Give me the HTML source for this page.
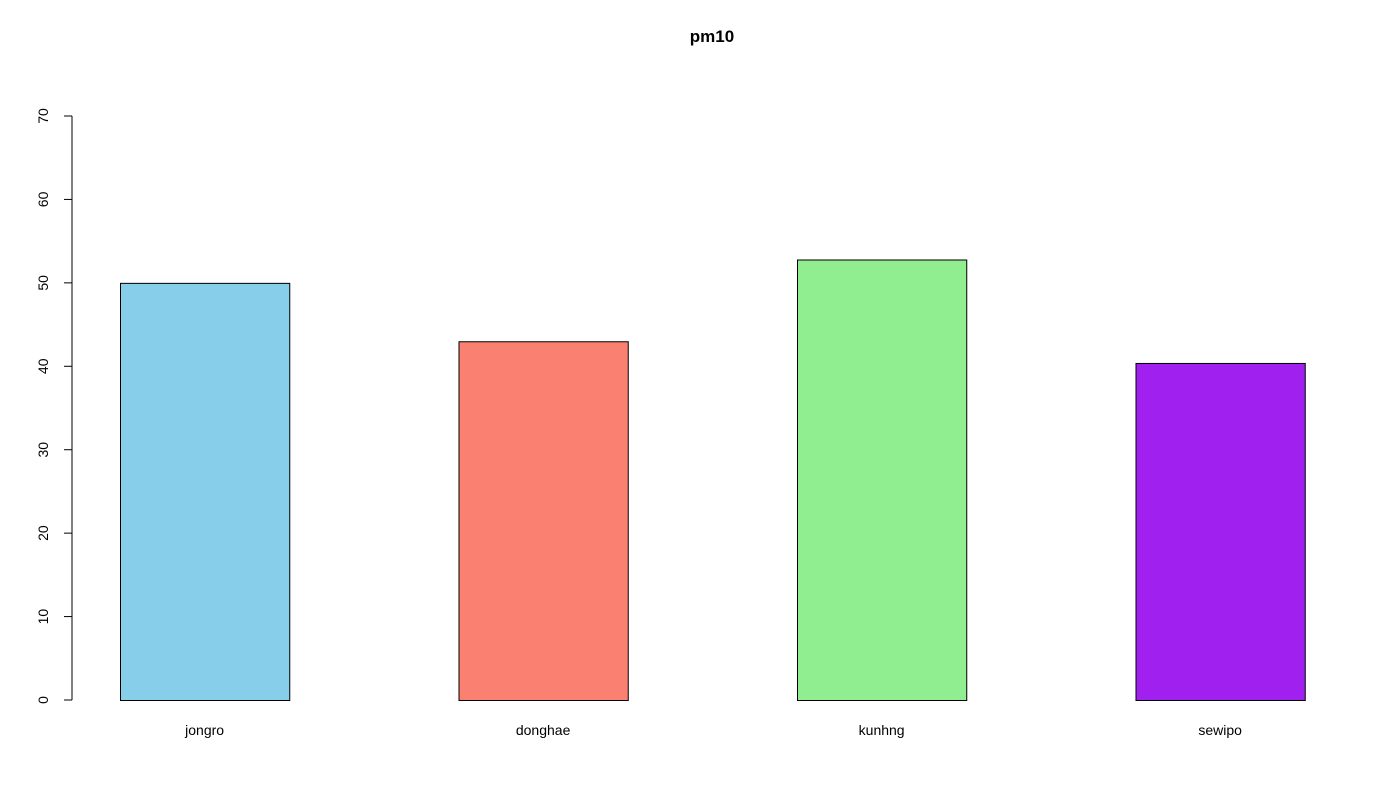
<!DOCTYPE html>
<html>
<head>
<meta charset="utf-8">
<style>
html,body{margin:0;padding:0;background:#fff;}
svg{display:block;font-family:"Liberation Sans",Arial,sans-serif;}
</style>
</head>
<body>
<svg id="chart" width="1385" height="791" viewBox="0 0 1385 791" xmlns="http://www.w3.org/2000/svg">
<rect width="1385" height="791" fill="#fff"/>
<text x="712" y="42" text-anchor="middle" font-size="17" font-weight="bold">pm10</text>
<g id="yaxis"></g>
<g id="bars"></g>
<g id="xlabels"></g>
</svg>
<script>
const categories = ["jongro","donghae","kunhng","sewipo"];
const values = [50, 43, 52.8, 40.4];
const colors = ["#87CEEB","#FA8072","#90EE90","#A020F0"];
const yTicks = [0,10,20,30,40,50,60,70];

const NS = "http://www.w3.org/2000/svg";
const y = v => 700 - v * (584/70);
const x = u => 120 + u * 169.25;

const yaxis = document.getElementById('yaxis');
const axLine = document.createElementNS(NS,'line');


axLine.setAttribute('x1',72);axLine.setAttribute('x2',72);
axLine.setAttribute('y1',y(yTicks[0]));axLine.setAttribute('y2',y(yTicks[yTicks.length-1]));
axLine.setAttribute('stroke','#000');
yaxis.appendChild(axLine);
yTicks.forEach(t=>{
  const tk=document.createElementNS(NS,'line');
  
  
  tk.setAttribute('x1',64);tk.setAttribute('x2',72);
  tk.setAttribute('y1',y(t));tk.setAttribute('y2',y(t));
  tk.setAttribute('stroke','#000');
  yaxis.appendChild(tk);
  const lb=document.createElementNS(NS,'text');
  
  
  lb.setAttribute('transform',`translate(48,${y(t)}) rotate(-90)`);
  lb.setAttribute('text-anchor','middle');
  lb.setAttribute('font-size','14');
  lb.textContent=t;
  yaxis.appendChild(lb);
});

const bars=document.getElementById('bars');
const xl=document.getElementById('xlabels');
categories.forEach((c,i)=>{
  const r=document.createElementNS(NS,'rect');
  
  
  r.setAttribute('x',x(2*i)+0.5);
  r.setAttribute('width',x(2*i+1)-x(2*i));
  r.setAttribute('y',y(values[i])+0.5);
  r.setAttribute('height',y(0)-y(values[i]));
  r.setAttribute('fill',colors[i]);
  r.setAttribute('stroke','#000');
  bars.appendChild(r);
  const t=document.createElementNS(NS,'text');
  
  
  t.setAttribute('x',x(2*i+0.5));
  t.setAttribute('y',735);
  t.setAttribute('text-anchor','middle');
  t.setAttribute('font-size','14');
  t.textContent=c;
  xl.appendChild(t);
});
</script>
</body>
</html>
